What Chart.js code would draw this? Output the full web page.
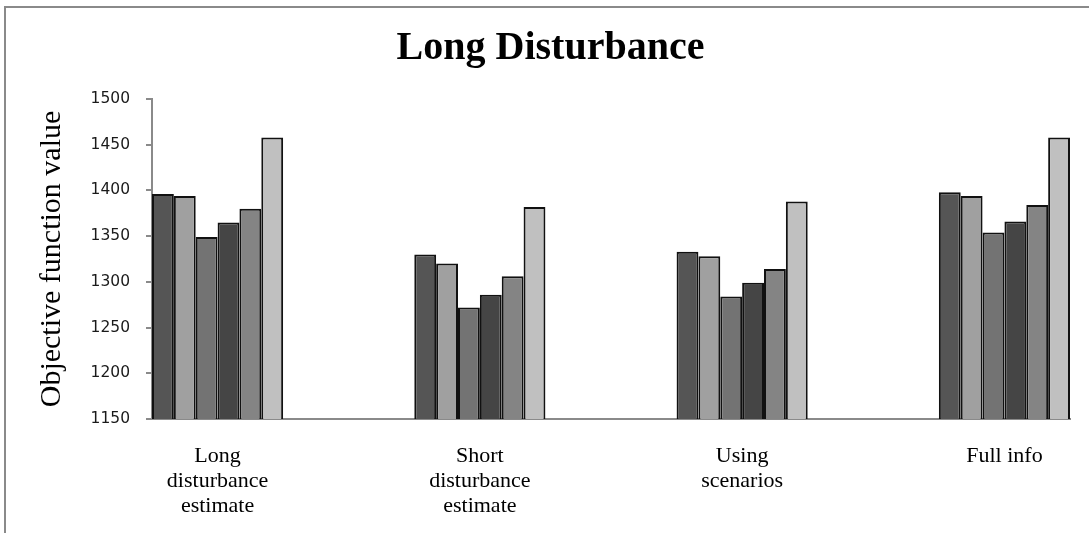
<!DOCTYPE html>
<html>
<head>
<meta charset="utf-8">
<title>Long Disturbance</title>
<script src="https://cdn.jsdelivr.net/npm/chart.js@4/dist/chart.umd.min.js"></script>
<style>
  html, body { margin: 0; padding: 0; background: #fff; overflow: hidden; }
  #wrap { position: relative; width: 1089px; height: 533px; }
  #frame {
    position: absolute; left: 4px; top: 6px;
    width: 1200px; height: 700px;
    border: 2px solid #8a8a8a;
  }
  #chart { position: absolute; left: 0; top: 0; }
</style>
</head>
<body>
<div id="wrap">
  <div id="frame"></div>
  <canvas id="chart" width="1089" height="533"></canvas>
</div>
<script>
const categories = [
  ["Long", "disturbance", "estimate"],
  ["Short", "disturbance", "estimate"],
  ["Using", "scenarios"],
  ["Full info"]
];

// six series, one bar each per category
const series1 = [1396, 1330, 1333, 1398];
const series2 = [1394, 1320, 1328, 1394];
const series3 = [1349, 1272, 1284, 1354];
const series4 = [1365, 1286, 1299, 1366];
const series5 = [1380, 1306, 1314, 1384];
const series6 = [1458, 1382, 1388, 1458];

const yTicks = [1150, 1200, 1250, 1300, 1350, 1400, 1450, 1500];

const seriesList = [series1, series2, series3, series4, series5, series6];
const seriesColors = ["#555555", "#a0a0a0", "#737373", "#454545", "#848484", "#c0c0c0"];

const axisGrey = "#8a8a8a";
const serif = "'Liberation Serif', 'Times New Roman', serif";

function toPoints(values) {
  return values.map((v, i) => ({ x: i, y: v }));
}

const datasets = seriesList.map((values, i) => ({
  label: "Series " + (i + 1),
  data: toPoints(values),
  backgroundColor: seriesColors[i],
  borderColor: "#111111",
  borderWidth: 2,
  categoryPercentage: 0.5,
  barPercentage: 1.0
}));

new Chart(document.getElementById("chart"), {
  type: "bar",
  data: { datasets },
  options: {
    responsive: false,
    animation: false,
    layout: {
      padding: { left: 12, right: 0, top: 0, bottom: 0 }
    },
    plugins: {
      legend: { display: false },
      tooltip: { enabled: false },
      title: {
        display: true,
        text: "Long Disturbance",
        color: "#000",
        font: { family: serif, size: 40, weight: "bold" },
        padding: { top: 25, bottom: 26 }
      }
    },
    scales: {
      x: {
        type: "linear",
        min: -0.25,
        max: 3.25,
        offset: false,
        afterBuildTicks: (scale) => {
          scale.ticks = categories.map((c, i) => ({ value: i }));
        },
        afterFit: (scale) => { scale.height = 114; },
        grid: { drawOnChartArea: false, drawTicks: false },
        border: { color: axisGrey, width: 2 },
        ticks: {
          autoSkip: false,
          maxRotation: 0,
          padding: 25,
          color: "#000",
          font: { family: serif, size: 22, lineHeight: 1.14 },
          callback: (value) => categories[value] || ""
        }
      },
      y: {
        min: 1150,
        max: 1500,
        afterBuildTicks: (scale) => {
          scale.ticks = yTicks.map(v => ({ value: v }));
        },
        afterFit: (scale) => { scale.width = 140; },
        grid: {
          drawOnChartArea: false,
          drawTicks: true,
          tickLength: 6,
          color: axisGrey,
          lineWidth: 2
        },
        border: { color: axisGrey, width: 2 },
        ticks: {
          padding: 16,
          color: "#1a1a1a",
          font: { family: "'DejaVu Sans', sans-serif", size: 15.5 },
          callback: (value) => String(value)
        },
        title: {
          display: true,
          text: "Objective function value",
          color: "#000",
          font: { family: serif, size: 30 },
          padding: { top: 22, bottom: 0 }
        }
      },
      // empty right-hand strip so the plot stops where the reference does
      yRight: {
        position: "right",
        display: true,
        afterFit: (scale) => { scale.width = 19; },
        grid: { display: false },
        border: { display: false },
        ticks: { display: false }
      }
    }
  }
});
</script>
</body>
</html>
